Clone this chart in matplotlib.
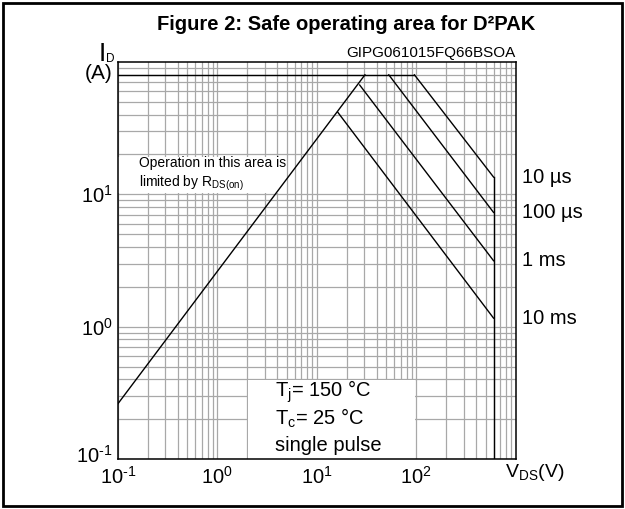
import matplotlib
matplotlib.use("Agg")
import matplotlib.pyplot as plt
from matplotlib.patches import Rectangle
from matplotlib.ticker import NullFormatter
from matplotlib.transforms import ScaledTranslation

plt.rcParams['font.family'] = ['Liberation Sans', 'DejaVu Sans']
plt.rcParams['mathtext.fontset'] = 'custom'
plt.rcParams['mathtext.rm'] = 'Liberation Sans'
plt.rcParams['mathtext.it'] = 'Liberation Sans:italic'

# ---------- data -----------------------------------------------------------
x_ticks = [0.1, 1, 10, 100]
x_labels = [r'$\mathregular{10^{\text{-}1}}$', r'$\mathregular{10^{0}}$',
            r'$\mathregular{10^{1}}$', r'$\mathregular{10^{2}}$']
y_ticks = [0.1, 1, 10]
y_labels = [r'$\mathregular{10^{\text{-}1}}$', r'$\mathregular{10^{0}}$',
            r'$\mathregular{10^{1}}$']

# R_DS(on) limit and current limit
rds_v = [0.1, 30.5]
rds_i = [0.262, 80]
ilim_v = [0.1, 96]
ilim_i = [80, 80]

# pulse lines (start, end at 600 V)
pulse_names = ['10 µs', '100 µs', '1 ms', '10 ms']
pulse_v = [[96, 600], [53, 600], [27, 600], [16.3, 600]]
pulse_i = [[80, 13.5], [80, 7.3], [67, 3.15], [41.6, 1.16]]

# breakdown voltage limit
vmax_v = [600, 600]
vmax_i = [13.5, 0.1]

# ---------- figure ----------------------------------------------------------
fig = plt.figure(figsize=(6.25, 5.09), dpi=100)
ax = fig.add_axes([118 / 625, 50 / 509, 397.6 / 625, 397 / 509])
ax.set_xscale('log')
ax.set_yscale('log')
ax.set_xlim(0.1, 1000)
ax.set_ylim(0.1, 100)

ax.set_axisbelow(True)
ax.grid(True, which='both', color='#a8a8a8', lw=0.9)
for s in ax.spines.values():
    s.set_linewidth(1.1)

ax.set_xticks(x_ticks)
ax.set_xticklabels(x_labels)
ax.set_yticks(y_ticks)
ax.set_yticklabels(y_labels)
ax.xaxis.set_minor_formatter(NullFormatter())
ax.yaxis.set_minor_formatter(NullFormatter())
ax.tick_params(which='both', length=0, labelsize=14.5)
ax.tick_params(axis='x', pad=5)
ax.tick_params(axis='y', pad=4)

# lowest y label sits a little above its tick, as in the original
lab = ax.get_yticklabels()[0]
lab.set_transform(lab.get_transform() +
                  ScaledTranslation(0, 4 / 72, fig.dpi_scale_trans))

# white boxes behind the notes
ax.add_patch(Rectangle((0.1, 10.3), 4.7, 9.0, facecolor='white',
                       edgecolor='none', zorder=1))
ax.add_patch(Rectangle((2.04, 0.1), 95.5, 0.295, facecolor='white',
                       edgecolor='none', zorder=1))

lk = dict(color='black', lw=1.0, zorder=3)
ax.plot(rds_v, rds_i, **lk)
ax.plot(ilim_v, ilim_i, **lk)
for v, i in zip(pulse_v, pulse_i):
    ax.plot(v, i, **lk)
ax.plot(vmax_v, vmax_i, **lk)

ytr = ax.get_yaxis_transform()
for name, i in zip(pulse_names, pulse_i):
    ax.text(1.016, i[-1], name, transform=ytr, ha='left', va='center',
            fontsize=14.5)

ax.text(1.0, 1.004, 'GIPG061015FQ66BSOA', transform=ax.transAxes,
        ha='right', va='bottom', fontsize=11)

ax.text(0.053, 0.7456, 'Operation in this area is', transform=ax.transAxes,
        ha='left', va='center', fontsize=10, zorder=4)
ax.text(0.053, 0.695, r'limited by R$_\mathregular{DS(on)}$',
        transform=ax.transAxes, ha='left', va='center', fontsize=10, zorder=4)

ax.text(0.395, 0.169, r'T$_\mathregular{j}$= 150 °C', transform=ax.transAxes,
        ha='left', va='center', fontsize=14.5, zorder=4)
ax.text(0.395, 0.103, r'T$_\mathregular{c}$= 25 °C', transform=ax.transAxes,
        ha='left', va='center', fontsize=14.5, zorder=4)
ax.text(0.395, 0.035, 'single pulse', transform=ax.transAxes,
        ha='left', va='center', fontsize=14.5, zorder=4)

# axis labels
fig.text(99 / 625, 1 - 61 / 509, 'I', ha='left', va='baseline', fontsize=19)
fig.text(106 / 625, 1 - 62 / 509, 'D', ha='left', va='baseline', fontsize=8.5)
fig.text(113 / 625, 1 - 79 / 509, '(A)', ha='right', va='baseline',
         fontsize=15)
fig.text(505 / 625, 1 - 477 / 509, r'V$_\mathregular{DS}$(V)', ha='left',
         va='baseline', fontsize=14)

fig.text(0.553, 1 - 30 / 509, 'Figure 2: Safe operating area for D²PAK',
         ha='center', va='baseline', fontsize=14.5, fontweight='bold')

fig.add_artist(Rectangle((3 / 625, 3 / 509), 619 / 625, 503 / 509,
                         transform=fig.transFigure, fill=False, lw=2,
                         edgecolor='black'))

fig.savefig('out.png', dpi=100)
